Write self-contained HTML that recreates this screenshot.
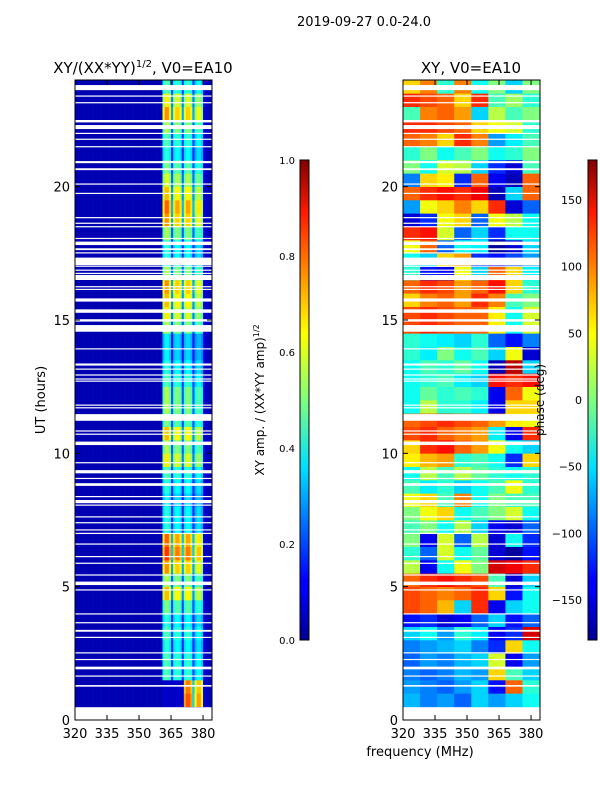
<!DOCTYPE html>
<html><head><meta charset="utf-8"><style>
body{margin:0;background:#fff;width:600px;height:800px;overflow:hidden}
svg{display:block;font-family:"DejaVu Sans","Liberation Sans",sans-serif}
</style></head><body>
<svg id="fig" width="600" height="800" viewBox="0 0 600 800">
<defs>
<linearGradient id="jet" x1="0" y1="1" x2="0" y2="0">
<stop offset="0" stop-color="#00008f"/><stop offset="0.11" stop-color="#0000ff"/><stop offset="0.125" stop-color="#0000ff"/>
<stop offset="0.36" stop-color="#00e0ff"/><stop offset="0.5" stop-color="#7fff7f"/><stop offset="0.64" stop-color="#ffff00"/>
<stop offset="0.89" stop-color="#ff1a00"/><stop offset="1" stop-color="#800000"/></linearGradient>
</defs>
<text x="364" y="26" font-size="13" text-anchor="middle">2019-09-27 0.0-24.0</text>
<text x="143" y="73" font-size="15" text-anchor="middle">XY/(XX*YY)<tspan font-size="10" dy="-6">1/2</tspan><tspan dy="6">, V0=EA10</tspan></text>
<text x="471" y="73" font-size="15" text-anchor="middle">XY, V0=EA10</text>
<g id="ampPanel"></g>
<g id="phasePanel"></g>
<g id="axes"></g>
<text transform="translate(45,400) rotate(-90)" font-size="13" text-anchor="middle">UT (hours)</text>
<text x="420" y="756" font-size="13" text-anchor="middle">frequency (MHz)</text>
<rect x="300" y="160" width="9" height="480" fill="url(#jet)" stroke="#000" stroke-width="1"/>
<rect x="588" y="160" width="9" height="480" fill="url(#jet)" stroke="#000" stroke-width="1"/>
<text transform="translate(264,400) rotate(-90)" font-size="12" text-anchor="middle">XY amp. / (XX*YY amp)<tspan font-size="8" dy="-5">1/2</tspan></text>
<text transform="translate(544,400) rotate(-90)" font-size="12" text-anchor="middle">phase (deg)</text>
</svg>
<script>
const freqTicks=[320,335,350,365,380];
const hourTicks=[0,5,10,15,20];
const ampCbTicks=[0.0,0.2,0.4,0.6,0.8,1.0];
const phaseCbTicks=[-150,-100,-50,0,50,100,150];
const chanAmp=[0.05,0.05,0.05,0.05,0.05,0.05,0.05,0.05,0.05,0.05,0.05,0.05,0.05,0.05,0.05,0.05,0.05,0.05,0.05,0.05,0.05,0.05,0.05,0.05,0.05,0.05,0.05,0.05,0.05,0.05,0.05,0.05,0.05,0.05,0.05,0.05,0.05,0.05,0.05,0.05,0.05,
0.38,0.46,0.46,0.4,0.18,0.38,0.42,0.42,0.38,0.18,0.38,0.42,0.42,0.38,0.18,0.33,0.38,0.38,0.33,0.1,0.06,0.06,0.06];
const rowFactor=[0,1.9,1.8,1.0,1.0,0.9,1.0,0.9,1.1,1.5,1.2,1.6,1.8,1.7,0.9,0.9,0.8,0.9,1.0,1.4,1.2,1.5,1.1,1.2,1.2,1.0,0.9,0.8,0.8,1.2,1.4,1.5,1.6,1.2,0.9,0.9,1.2,1.6,1.7,1.5,1.3,1.1,0.9,1.0,1.2,1.6,1.4,1.0];
const lowBandOff=[[0,1.3]];
const phaseRows=[
[-70,-90,-80,-100,-60,-80,-60,-40],[-70,-90,-80,-100,-60,-80,-60,-40],[-80,-90,-100,-80,-60,-130,100,-30],[-90,-100,-90,-70,-80,60,-20,-60],
[-100,-80,-90,-70,-60,30,-140,-80],[-90,-80,-70,-60,-90,-120,60,-40],[-60,-40,-80,-30,-50,-140,-120,150],[-130,-120,-150,-140,-100,-60,-130,-100],
[110,100,70,-60,120,-140,-60,-40],[110,100,90,100,120,60,-130,-40],[100,120,130,120,110,-20,-150,-60],[20,-140,-40,40,0,150,140,120],
[-30,-100,30,-40,-10,-150,-170,-130],[0,-140,30,-100,20,-150,-40,-120],[-20,0,-40,20,-60,-140,-150,-100],[0,40,60,-40,-20,0,30,-40],
[40,60,-20,90,-40,0,-20,-20],[-20,-50,-30,-60,-40,-20,40,-30],[-40,20,-20,20,-10,-30,-40,-30],[50,70,80,-30,-20,-40,-120,60],
[60,120,130,100,80,40,-40,-60],[110,120,100,90,80,-50,-140,120],[100,110,120,110,100,80,50,40],[-40,20,-30,-30,-50,-140,60,60],
[-40,-10,-30,-20,-30,-140,100,40],[-40,-30,-20,-50,-60,130,120,130],[-40,-20,-30,-10,-40,-160,160,-60],[-30,-50,0,-40,-20,-60,40,-150],
[-30,-40,-50,-60,-30,-100,-130,-90],[110,120,110,100,100,50,-40,30],[110,120,110,100,100,50,-40,30],[60,90,100,80,120,90,-20,0],
[100,120,110,80,100,130,60,-30],[-30,-130,-140,40,-60,100,60,-50],[-40,-60,60,80,-120,-130,-110,-80],[40,100,-100,-40,-50,-170,-150,-60],
[120,130,30,-100,-60,-120,-40,-40],[-150,-120,40,60,-100,40,20,-40],[-80,40,60,90,60,120,-150,-100],[100,120,130,120,140,-160,-60,100],
[-90,60,50,-120,100,-140,-160,100],[0,-40,30,20,-60,-120,-150,-20],[-30,0,-40,-20,0,-40,-30,0],[100,90,60,120,90,-80,-50,-20],
[120,120,110,100,60,40,30,-30],[-20,90,100,80,-60,20,-20,0],[120,110,100,60,120,-20,10,-30],[60,90,-30,90,-40,0,-60,0]];
const flagged=[[0,0.48],[1.25,1.31],[1.63,1.67],[1.9,2.0],[2.25,2.29],[2.5,2.54],[3.08,3.12],[3.31,3.38],[3.63,3.67],[3.96,4.0],[4.86,4.9],
[5.06,5.19],[5.42,5.46],[5.86,5.9],[6.11,6.15],[6.58,6.62],[6.98,7.02],[7.11,7.15],[7.38,7.42],[7.6,7.64],[8.04,8.08],[8.13,8.25],[8.36,8.4],
[8.78,8.88],[9.04,9.08],[9.25,9.37],[9.63,9.67],[10.31,10.44],[10.7,10.74],[10.82,10.86],[11.22,11.47],[11.69,11.73],[11.79,11.83],
[12.69,12.73],[12.77,12.81],[12.92,12.96],[13.14,13.18],[13.29,13.37],[13.9,13.94],[14.56,14.81],[14.94,15.03],[15.27,15.4],[15.69,15.81],
[16.13,16.17],[16.23,16.27],[16.5,16.69],[16.73,16.77],[16.85,16.89],[17.0,17.04],[17.06,17.34],[17.5,17.54],[17.62,17.69],[17.81,17.94],
[18.04,18.08],[18.48,18.52],[18.61,18.65],[18.82,18.86],[19.73,19.77],[20.08,20.12],[20.62,20.69],[20.88,20.96],[21.48,21.52],[21.76,21.8],
[21.98,22.02],[22.16,22.31],[22.41,22.5],[23.13,23.17],[23.38,23.42],[23.62,23.81]];

const NS='http://www.w3.org/2000/svg';
const PY0=720,PY1=80,FMIN=320,FMAX=384.2;
function yScale(h){return PY0-(h/24)*(PY0-PY1);}
function xScale(f,x0){return x0+(f-FMIN)/(FMAX-FMIN)*137;}
function jet(v){v=Math.max(0,Math.min(1,v));
 const r=Math.max(0,Math.min(1,1.5-Math.abs(4*v-3))),g=Math.max(0,Math.min(1,1.5-Math.abs(4*v-2))),b=Math.max(0,Math.min(1,1.5-Math.abs(4*v-1)));
 return 'rgb('+Math.round(r*255)+','+Math.round(g*255)+','+Math.round(b*255)+')';}
function mk(tag,attrs,parent){const e=document.createElementNS(NS,tag);for(const k in attrs)e.setAttribute(k,attrs[k]);parent.appendChild(e);return e;}

const amp=document.getElementById('ampPanel');
for(let r=0;r<rowFactor.length;r++){
 const h0=r*0.5,h1=h0+0.5;
 const off=lowBandOff.some(b=>h0>=b[0]&&h1<=b[1]+0.21);
 for(let c=0;c<chanAmp.length;c++){
  const f=FMIN+c;let v=chanAmp[c];
  if(v>0.15){v=v*rowFactor[r]; if(off&&f<371)v=0.07;}
  const x0=xScale(f,75),x1=xScale(f+1,75);
  const e=mk('rect',{x:x0,y:yScale(h1),width:x1-x0+0.3,height:yScale(h0)-yScale(h1)+0.3,fill:jet(v)},amp);
  
  
 }
}
const ph=document.getElementById('phasePanel');
for(let r=0;r<phaseRows.length;r++){
 const h0=r*0.5,h1=h0+0.5;
 for(let c=0;c<phaseRows[r].length;c++){
  const f0=FMIN+c*8,f1=Math.min(FMAX,f0+8.03);
  const v=(phaseRows[r][c]+180)/360;
  const x0=xScale(f0,403),x1=xScale(f1,403);
  const e=mk('rect',{x:x0,y:yScale(h1),width:x1-x0+0.3,height:yScale(h0)-yScale(h1)+0.3,fill:jet(v)},ph);
  
  
 }
}
const ax=document.getElementById('axes');
flagged.forEach(b=>{[75,403].forEach(x0=>{
 const e=mk('rect',{x:x0,y:yScale(b[1]),width:137,height:Math.max(1.2,yScale(b[0])-yScale(b[1])),fill:'#fff'},ax);
 
 
});});
[75,403].forEach((x0,pi)=>{
 const fr=mk('rect',{x:x0,y:PY1,width:137,height:PY0-PY1,fill:'none',stroke:'#000','stroke-width':1},ax);
 
 
 freqTicks.forEach(f=>{const x=xScale(f,x0);
  mk('line',{x1:x,x2:x,y1:PY0,y2:PY0-5,stroke:'#000'},ax);
  mk('line',{x1:x,x2:x,y1:PY1,y2:PY1+5,stroke:'#000'},ax);
  const t=mk('text',{x:x,y:738,'font-size':13,'text-anchor':'middle'},ax);t.textContent=f;
  
  
 });
 hourTicks.forEach(h=>{const y=yScale(h);
  mk('line',{x1:x0,x2:x0+5,y1:y,y2:y,stroke:'#000'},ax);
  mk('line',{x1:x0+137,x2:x0+132,y1:y,y2:y,stroke:'#000'},ax);
  const t=mk('text',{x:x0-5,y:y+5,'font-size':13,'text-anchor':'end'},ax);t.textContent=h;
  
  
 });
});
ampCbTicks.forEach(v=>{const y=640-v*480;
 mk('line',{x1:300,x2:303,y1:y,y2:y,stroke:'#000'},ax);mk('line',{x1:309,x2:306,y1:y,y2:y,stroke:'#000'},ax);
 const t=mk('text',{x:295,y:y+4,'font-size':10,'text-anchor':'end'},ax);t.textContent=v.toFixed(1);
 
 
});
phaseCbTicks.forEach(v=>{const y=640-(v+180)/360*480;
 mk('line',{x1:588,x2:591,y1:y,y2:y,stroke:'#000'},ax);mk('line',{x1:597,x2:594,y1:y,y2:y,stroke:'#000'},ax);
 const t=mk('text',{x:582,y:y+4,'font-size':11,'text-anchor':'end'},ax);t.textContent=v<0?'\u2212'+(-v):v;
 
 
});
</script>
</body></html>
